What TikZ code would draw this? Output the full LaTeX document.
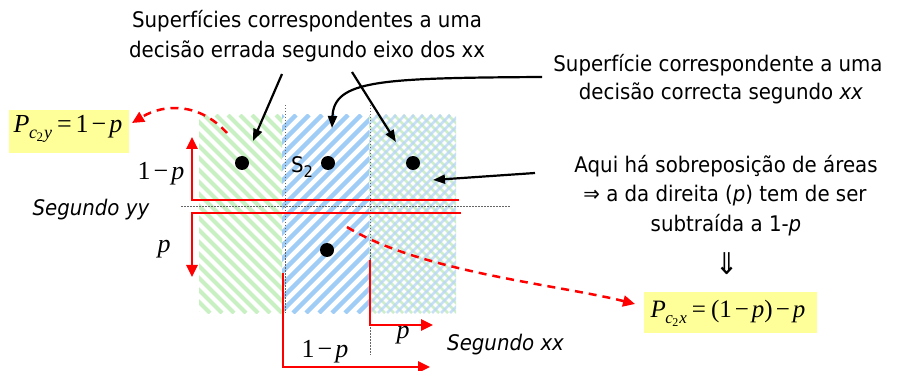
\documentclass[tikz,border=0pt]{standalone}
\usepackage{fontspec}
\setmainfont{DejaVu Sans}[FakeStretch=0.92]
\newfontfamily\tnr{Liberation Serif}
\usetikzlibrary{arrows.meta}
\definecolor{gstripe}{RGB}{200,240,195}
\definecolor{bstripe}{RGB}{160,205,245}
\definecolor{gx}{RGB}{205,238,200}
\definecolor{bx}{RGB}{185,215,245}
\definecolor{ybox}{RGB}{255,255,153}
\newcommand\sm[1]{\fontsize{#1}{#1}\selectfont}
\begin{document}
\begin{tikzpicture}[x=1pt,y=-1pt,
  redln/.style={red, line width=2.5pt},
  redarr/.style={redln, -{Triangle[length=12pt,width=11pt]}},
  reddash/.style={red, line width=2.5pt, dash pattern=on 8pt off 6pt, -{Triangle[length=12pt,width=11pt]}},
  blkarr/.style={black, line width=2.2pt, -{Triangle[length=12pt,width=9pt]}},
  dotln/.style={black!60, line width=0.9pt, dash pattern=on 1.5pt off 1.5pt},
  bigdot/.style={circle, fill=black, minimum size=14pt, inner sep=0pt},
  txt/.style={font=\sm{21.5}, inner sep=0pt, anchor=base},
  mth/.style={font=\tnr\sm{26}, inner sep=0pt, anchor=base},
  fbox/.style={fill=ybox, inner sep=0pt}
]
\useasboundingbox (0,0) rectangle (899,371);
% hatched regions
\begin{scope}
\clip (199,115) rectangle (282,313);
\foreach \a in {0,12,...,300} \draw[gstripe, line width=4pt] (\a,115) -- (\a+198,313);
\end{scope}
\begin{scope}
\clip (282,115) rectangle (369,313);
\foreach \a in {270,283,...,580} \draw[bstripe, line width=4.5pt] (\a,115) -- (\a-198,313);
\end{scope}
\begin{scope}
\clip (369,115) rectangle (456,313);
\foreach \a in {160,169,...,470} \draw[gx, line width=2.6pt] (\a,115) -- (\a+198,313);
\foreach \a in {360,369,...,670} \draw[bx, line width=2.6pt, opacity=0.8] (\a,115) -- (\a-198,313);
\end{scope}
% dotted guide lines
\draw[dotln] (285,105) -- (285,313);
\draw[dotln] (370,105) -- (370,355);
\draw[dotln] (181,206) -- (511,206);
% red lines
\draw[redarr] (459,200) -- (192,200) -- (192,137);
\draw[redarr] (461,213) -- (192,213) -- (192,277);
\draw[redarr] (283,273) -- (283,367) -- (430,367);
\draw[redarr] (370,260) -- (370,325) -- (433,325);
% dots
\node[bigdot] (d1) at (242,163) {};
\node[bigdot] (d2) at (328,163) {};
\node[bigdot] (d3) at (413,163) {};
\node[bigdot] (d4) at (327,250) {};
\node[txt] (s2) at (302,173) {S\raisebox{-5pt}{\sm{16}2}};
% texts
\node[txt] (t1a) at (307,28) {Superfícies correspondentes a uma};
\node[txt] (t1b) at (307,58) {decisão errada segundo eixo dos xx};
\node[txt] (t2a) at (718,72) {Superfície correspondente a uma};
\node[txt] (t2b) at (721,100) {decisão correcta segundo \textit{xx}};
\node[txt] (t3a) at (726,173) {Aqui há sobreposição de áreas};
\node[txt] (t3b) at (725,202) {⇒ a da direita (\textit{p}) tem de ser};
\node[txt] (t3c) at (726,232) {subtraída a 1-\textit{p}};
\node[txt, font=\sm{30}] (t3d) at (727,275) {⇓};
\node[txt] (sy) at (91,216) {\textit{Segundo yy}};
\node[txt, anchor=base west] (sx) at (447,350) {\textit{Segundo xx}};
% axis labels
\node[mth] (l1) at (161,180) {1\kern3pt−\kern3pt\textit{p}};
\node[mth] (l2) at (164,253) {\textit{p}};
\node[mth] (l3) at (325,357) {1\kern3pt−\kern3pt\textit{p}};
\node[mth] (l4) at (403,338) {\textit{p}};
% formula boxes
\node[fbox, minimum width=120pt, minimum height=43pt] (fy) at (69,131.5) {};
\node[mth] at (68,133) {\textit{P}\kern-0.5pt\raisebox{-6pt}{\sm{18}\textit{c}\kern-0.5pt\raisebox{-3pt}{\sm{13}2}\kern1pt\textit{y}}\kern5pt=\kern4pt1\kern3pt−\kern3pt\textit{p}};
\node[fbox, minimum width=173pt, minimum height=41pt] (fx) at (730.5,312.5) {};
\node[mth, font=\tnr\sm{25}] at (728,317) {\textit{P}\kern-0.5pt\raisebox{-6pt}{\sm{17}\textit{c}\kern-0.5pt\raisebox{-3pt}{\sm{12}2}\kern1pt\textit{x}}\kern5pt=\kern5pt(1\kern3pt−\kern3pt\textit{p})\kern3pt−\kern3pt\textit{p}};
% black arrows
\coordinate (a1s) at (282,74);
\coordinate (a1e) at (253,141);
\coordinate (a2s) at (352,72);
\coordinate (a2e) at (396,142);
\coordinate (a3s) at (542,77);
\coordinate (a3e) at (332,128);
\coordinate (a4s) at (535,173);
\coordinate (a4e) at (433,180);
\draw[blkarr] (a1s) -- (a1e);
\draw[blkarr] (a2s) -- (a2e);
\draw[blkarr] (a3s) .. controls (380,78) and (334,80) .. (a3e);
\draw[blkarr] (a4s) -- (a4e);
% red dashed curves
\coordinate (c1s) at (227,133);
\coordinate (c1e) at (132,123);
\coordinate (c2s) at (347,227);
\coordinate (c2e) at (635,304);
\draw[reddash] (c1s) .. controls (200,103) and (165,103) .. (c1e);
\draw[reddash] (c2s) .. controls (420,272) and (560,285) .. (c2e);
\end{tikzpicture}
\end{document}
